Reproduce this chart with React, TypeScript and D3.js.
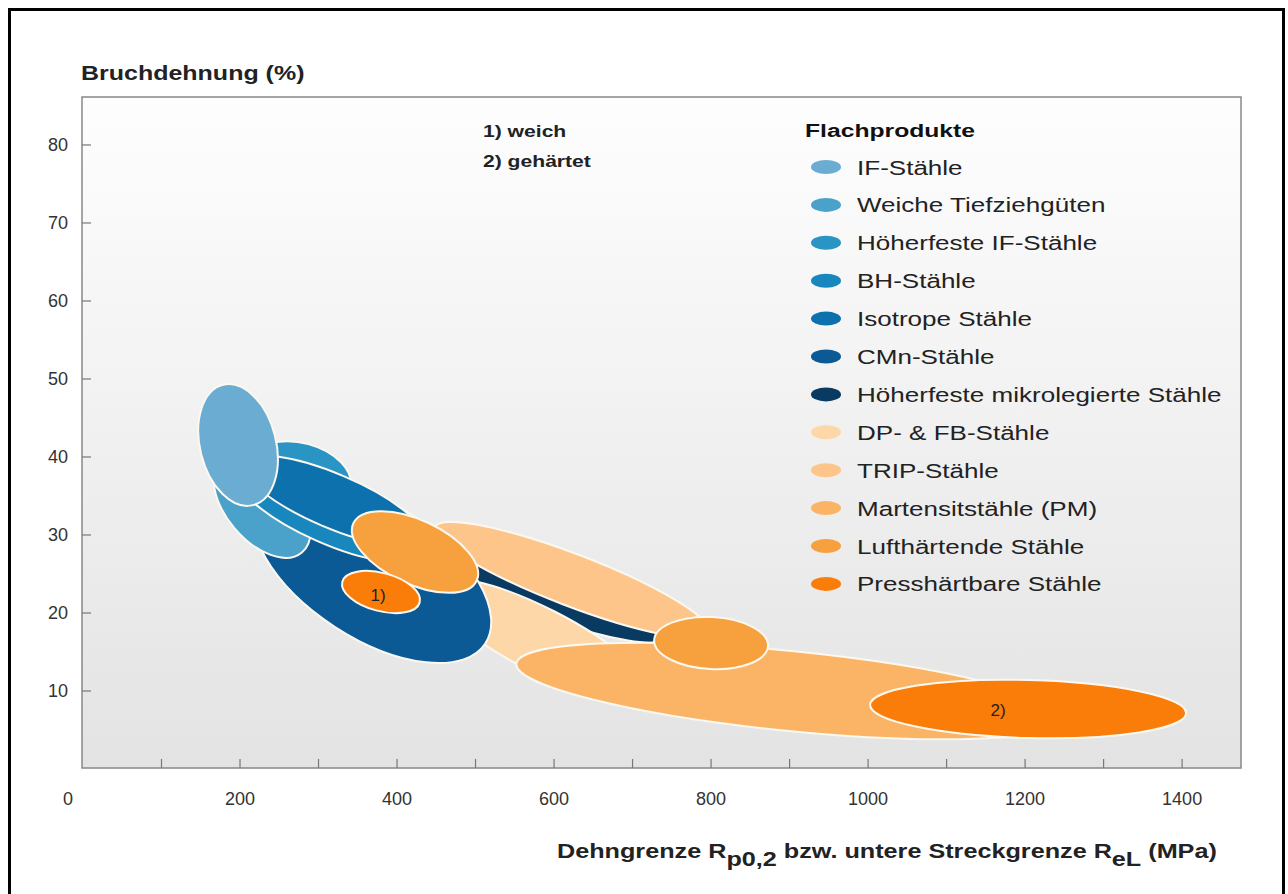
import * as d3 from "d3";

// Flachprodukte: Bruchdehnung vs. Dehngrenze
const categories = [
  "IF-Stähle",
  "Weiche Tiefziehgüten",
  "Höherfeste IF-Stähle",
  "BH-Stähle",
  "Isotrope Stähle",
  "CMn-Stähle",
  "Höherfeste mikrolegierte Stähle",
  "DP- & FB-Stähle",
  "TRIP-Stähle",
  "Martensitstähle (PM)",
  "Lufthärtende Stähle",
  "Presshärtbare Stähle",
];
const colors = [
  "#6badd2", "#4aa2cb", "#2a95c5", "#1787bd", "#0d71ad", "#0b5a96",
  "#083a62", "#fdd7a8", "#fdc58a", "#fbb466", "#f7a03e", "#fb7d09",
];

// regions in draw order (back to front)
const regionCat = [6, 7, 8, 5, 1, 2, 3, 4, 0, 9, 10, 10, 11, 11];
const regionMPa = [607.6, 582.2, 622.9, 368.2, 228.0, 276.4, 312.1, 318.5, 197.5, 900.6, 422.9, 800.0, 379.6, 1203.8];
const regionPct = [21.67, 16.54, 24.23, 25.51, 33.85, 37.69, 32.82, 34.36, 41.54, 10.0, 27.82, 16.15, 22.69, 7.69];
const regionHalfMPa = [140.1, 152.9, 187.3, 172.0, 79.0, 66.2, 127.4, 123.6, 48.4, 350.3, 86.6, 72.6, 51.0, 201.3];
const regionHalfPct = [2.7, 4.1, 3.33, 8.72, 4.62, 4.1, 3.85, 3.46, 7.95, 5.13, 4.1, 3.33, 2.44, 3.72];
const regionTilt = [20, 27, 21, 33, 50, 15, 24, 23, -14, 5.7, 25, 3, 15, 1.5];

const noteText = ["1)", "2)"];
const noteMPa = [375.8, 1165.6];
const notePct = [22.3, 7.56];

const xMarks = [100, 200, 300, 400, 500, 600, 700, 800, 900, 1000, 1100, 1200, 1300, 1400];
const xLabels = [0, 200, 400, 600, 800, 1000, 1200, 1400];
const yTicks = [10, 20, 30, 40, 50, 60, 70, 80];

const W = 1288;
const H = 894;
const font = "Arial, 'Liberation Sans', sans-serif";

const at = (px: number, py: number, sx: number) => `translate(${px},${py}) scale(${sx},1)`;

export default function App() {
  const x = d3.scaleLinear().domain([0, 1475]).range([83, 1241]);
  const y = d3.scaleLinear().domain([0, 86.15]).range([769, 97]);
  const left = 82, top = 97, right = 1241, bottom = 768;

  return (
    <svg width={W} height={H} style={{ position: "absolute", left: 0, top: 0, background: "#fff" }}>
      <defs>
        <linearGradient id="bg" x1="0" y1="0" x2="0" y2="1">
          <stop offset="0" stopColor="#fefefe" />
          <stop offset="1" stopColor="#e3e3e3" />
        </linearGradient>
      </defs>
      <rect x={9.5} y={9.5} width={1274} height={900} fill="#fff" stroke="#000" strokeWidth={3} />

      <rect x={left} y={top} width={right - left} height={bottom - top} fill="url(#bg)" stroke="#888" strokeWidth={1.5} />

      {/* regions */}
      {regionCat.map((c, i) => {
        const cx = x(regionMPa[i]);
        const cy = y(regionPct[i]);
        return (
          <ellipse
            key={i}
            cx={cx}
            cy={cy}
            rx={x(regionHalfMPa[i]) - x(0)}
            ry={y(0) - y(regionHalfPct[i])}
            transform={`rotate(${regionTilt[i]},${cx},${cy})`}
            fill={colors[c]}
            stroke="#fbf8f0"
            strokeWidth={2}
          />
        );
      })}
      {noteText.map((t, i) => (
        <text key={t} x={x(noteMPa[i])} y={y(notePct[i])} dy="0.35em" textAnchor="middle"
          fontFamily={font} fontSize={17} fill="#222">{t}</text>
      ))}

      {/* ticks */}
      {xMarks.map(v => (
        <line key={v} x1={x(v)} x2={x(v)} y1={bottom} y2={bottom - 9} stroke="#777" strokeWidth={1.2} />
      ))}
      {xLabels.map(v => (
        <text key={v} x={v === 0 ? x(v) - 15 : x(v)} y={805} textAnchor="middle"
          fontFamily={font} fontSize={18} fill="#333">{v}</text>
      ))}
      {yTicks.map(v => (
        <g key={v}>
          <line x1={left} x2={left + 9} y1={y(v)} y2={y(v)} stroke="#777" strokeWidth={1.2} />
          <text x={68} y={y(v)} dy="0.35em" textAnchor="end" fontFamily={font} fontSize={18} fill="#333">{v}</text>
        </g>
      ))}

      {/* axis titles */}
      <text transform={at(81, 80, 1.19)} fontFamily={font} fontSize={21} fontWeight="bold" fill="#222">Bruchdehnung (%)</text>
      <text transform={at(557, 858, 1.2)} fontFamily={font} fontSize={21} fontWeight="bold" fill="#222">
        Dehngrenze R<tspan dy={8}>p0,2</tspan><tspan dy={-8}> bzw. untere Streckgrenze R</tspan>
        <tspan dy={8}>eL</tspan><tspan dy={-8}> (MPa)</tspan>
      </text>

      {/* notes */}
      <text transform={at(483, 137, 1.32)} fontFamily={font} fontSize={16} fontWeight="bold" fill="#222">1) weich</text>
      <text transform={at(483, 167, 1.32)} fontFamily={font} fontSize={16} fontWeight="bold" fill="#222">2) gehärtet</text>

      {/* legend */}
      <text transform={at(805, 137, 1.3)} fontFamily={font} fontSize={19} fontWeight="bold" fill="#111">Flachprodukte</text>
      {categories.map((c, i) => {
        const ry = 167 + i * 37.9;
        return (
          <g key={c}>
            <ellipse cx={826} cy={ry} rx={15} ry={7} fill={colors[i]} />
            <text transform={at(857, ry + 7.5, 1.24)} fontFamily={font} fontSize={21} fill="#222">{c}</text>
          </g>
        );
      })}
    </svg>
  );
}
